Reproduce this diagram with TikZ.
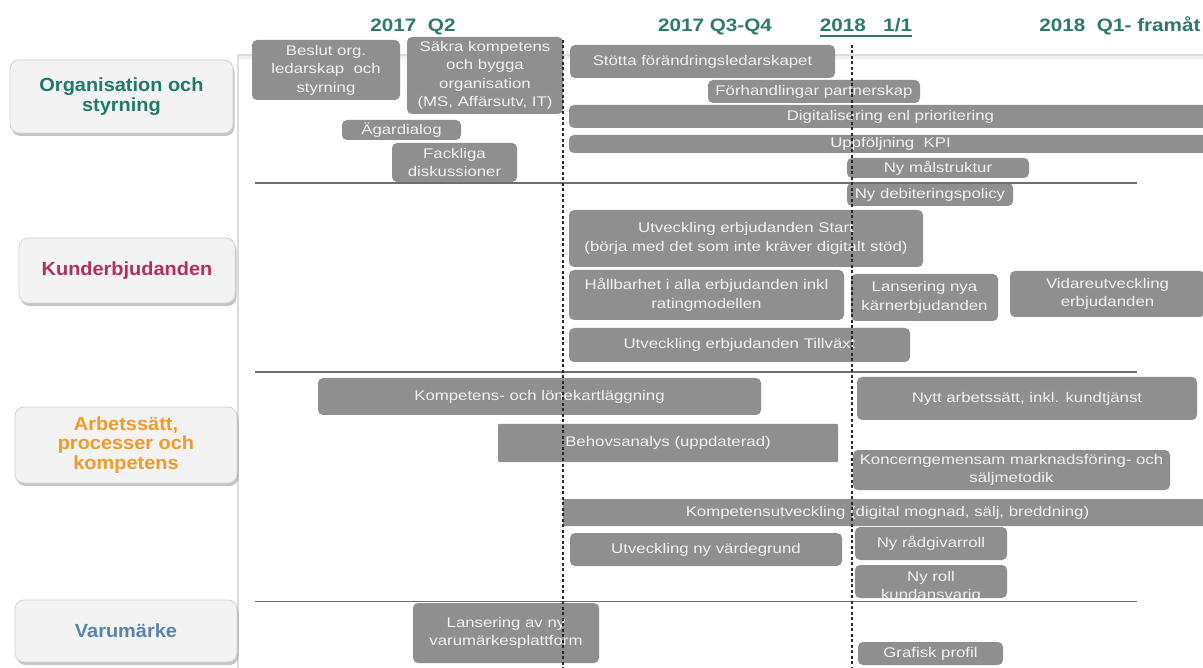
\documentclass[tikz,border=0pt]{standalone}
\usepackage{fontspec}
\setmainfont{Liberation Sans}
\newfontfamily\boxfont[FakeStretch=1.2]{Liberation Sans}
\newfontfamily\headfont[FakeStretch=1.15]{Liberation Sans}
\newfontfamily\catfont[FakeStretch=1.05]{Liberation Sans}
\usetikzlibrary{shadows}
\definecolor{boxgray}{HTML}{8F8F8F}
\definecolor{boxtext}{HTML}{F2F2F2}
\definecolor{catfill}{HTML}{F3F3F3}
\definecolor{catborder}{HTML}{D2D2D2}
\definecolor{headc}{HTML}{2D7A68}
\definecolor{orgc}{HTML}{1E7B68}
\definecolor{kundc}{HTML}{B0305A}
\definecolor{arbc}{HTML}{F09A2A}
\definecolor{varc}{HTML}{5B83AD}
\definecolor{sepc}{HTML}{6E6E6E}
\definecolor{faintc}{HTML}{DCDCDC}
\definecolor{dashc}{HTML}{2A2A2A}
\tikzset{
  gbox/.style={fill=boxgray, text=boxtext, rounded corners=5pt, inner sep=0pt,
    align=center, font=\boxfont\fontsize{14}{18.5}\selectfont},
  catbox/.style={fill=catfill, draw=catborder, line width=0.8pt, rounded corners=9pt,
    inner sep=0pt, align=center, font=\catfont\bfseries\fontsize{19}{19.5}\selectfont,
    drop shadow={shadow xshift=1.5pt, shadow yshift=-3pt, fill=black!50, opacity=0.45}},
  headlbl/.style={text=headc, inner sep=0pt, anchor=base, font=\headfont\bfseries\fontsize{18}{20}\selectfont},
  sepline/.style={draw=sepc, line width=1.8pt},
  faintline/.style={draw=faintc, line width=1.5pt},
  dashline/.style={draw=dashc, line width=1.3pt, dash pattern=on 3pt off 2.5pt}
}
% name, x1, y1, x2, y2, text
\newcommand{\taskbox}[7][]{%
  \node[gbox,#1,minimum width={#5pt-#3pt},minimum height={#6pt-#4pt}] (#2)
    at ({(#3+#5)/2},{(#4+#6)/2}) {#7};}
\begin{document}
\begin{tikzpicture}[x=1pt,y=-1pt]
\useasboundingbox[fill=white] (0,0) rectangle (1203,668);

% frame lines
\draw[draw=black!6, line width=4pt] (238,57.5) -- (1203,57.5);
\draw[faintline] (238,55) -- (1203,55);
\draw[faintline] (238,55) -- (238,668);

% headers
\node[headlbl] (h1) at (413,32) {2017\ \ Q2};
\node[headlbl] (h2) at (715,32) {2017 Q3-Q4};
\node[headlbl] (h3) at (866,32) {2018\ \ \ 1/1};
\node[headlbl] (h4) at (1120,32) {2018\ \ Q1- framåt};
\draw[headc, line width=1.6pt] ([yshift=-4pt]h3.base west) -- ([yshift=-4pt]h3.base east);

% category boxes
\node[catbox, minimum width=223pt, minimum height=73pt, text=orgc] (org) at (121.5,96.5) {Organisation och\\styrning};
\node[catbox, minimum width=216pt, minimum height=65pt, text=kundc] (kund) at (127,270.5) {Kunderbjudanden};
\node[catbox, minimum width=222pt, minimum height=76pt, text=arbc] (arb) at (126,445) {Arbetssätt,\\processer och\\kompetens};
\node[catbox, minimum width=222pt, minimum height=62pt, text=varc] (var) at (126,631) {Varumärke};

% Organisation och styrning
\taskbox{beslut}{252}{40}{400}{100}{Beslut org.\\ledarskap\ \ och\\styrning}
\taskbox{sakra}{407}{37}{563}{114}{Säkra kompetens\\och bygga\\organisation\\(MS, Affärsutv, IT)}
\taskbox{stotta}{570}{45}{835}{78}{Stötta förändringsledarskapet}
\taskbox{forh}{708}{80}{920}{103}{Förhandlingar partnerskap}
\taskbox{digi}{569}{105}{1212}{128}{Digitalisering enl prioritering}
\taskbox{agar}{342}{120}{461}{140}{Ägardialog}
\taskbox{kpi}{569}{135}{1212}{153}{Uppföljning\ \ KPI}
\taskbox{fack}{392}{143}{517}{182}{Fackliga\\diskussioner}
\taskbox{malstr}{847}{158}{1029}{178}{Ny målstruktur}
\taskbox{debit}{847}{183}{1013}{206}{Ny debiteringspolicy}

% Kunderbjudanden
\taskbox{start}{569}{210}{923}{267}{Utveckling erbjudanden Start\\(börja med det som inte kräver digitalt stöd)}
\taskbox{hallb}{569}{270}{844}{320}{Hållbarhet i alla erbjudanden inkl\\ratingmodellen}
\taskbox{lans}{851}{274}{998}{321}{Lansering nya\\kärnerbjudanden}
\taskbox{vidare}{1010}{271}{1205}{317}{Vidareutveckling\\erbjudanden}
\taskbox{tillv}{569}{328}{910}{362}{Utveckling erbjudanden Tillväxt}

% Arbetssätt, processer och kompetens
\taskbox{komplon}{318}{378}{761}{415}{Kompetens- och lönekartläggning}
\taskbox{nytt}{857}{377}{1197}{420}{Nytt arbetssätt, inkl. kundtjänst}
\taskbox[rounded corners=1pt]{behov}{498}{424}{838}{462}{Behovsanalys (uppdaterad)}
\taskbox{koncern}{853}{450}{1170}{490}{Koncerngemensam marknadsföring- och\\säljmetodik}
\taskbox[rounded corners=1pt]{kompu}{563}{499}{1212}{526}{Kompetensutveckling (digital mognad, sälj, breddning)}
\taskbox{vard}{570}{533}{842}{566}{Utveckling ny värdegrund}
\taskbox{radg}{855}{527}{1007}{560}{Ny rådgivarroll}
\taskbox{kundans}{855}{565}{1007}{598}{}
\node[gbox, fill=none] (kundanstxt) at (931,587) {Ny roll\\kundansvarig};

% Varumärke
\taskbox{lansvar}{413}{603}{599}{663}{Lansering av ny\\varumärkesplattform}
\taskbox{grafisk}{858}{642}{1003}{665}{Grafisk profil}

% separators
\draw[sepline] (255,183) -- (1137,183);
\draw[sepline] (255,372) -- (1137,372);
\draw[sepline] (255,601.5) -- (1137,601.5);

% milestone lines
\draw[dashline] (563,40) -- (563,668);
\draw[dashline] (852,45) -- (852,668);
\end{tikzpicture}
\end{document}
